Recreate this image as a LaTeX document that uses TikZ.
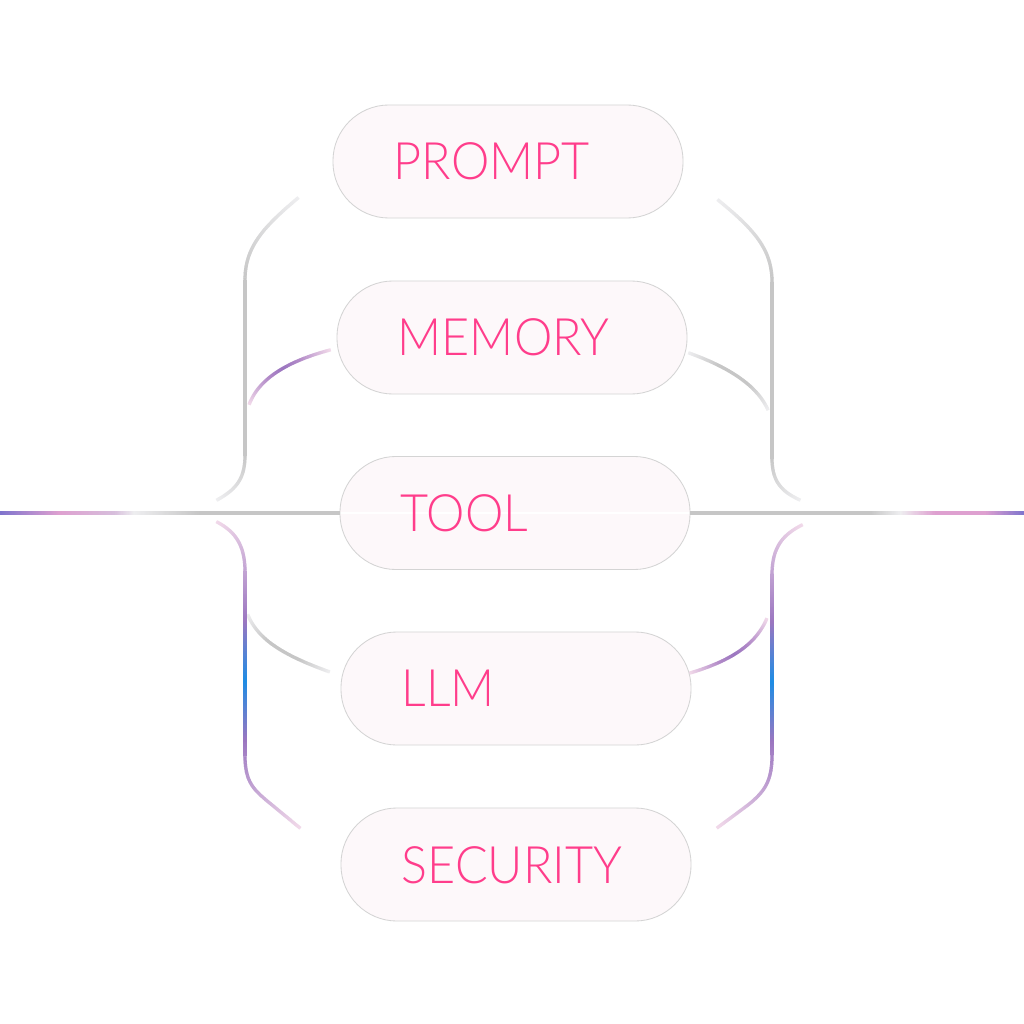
\documentclass[tikz,border=0pt]{standalone}
\usepackage{fontspec}
\setmainfont{Lato Light}[FakeStretch=0.94]
\usetikzlibrary{decorations.markings}
\definecolor{txtpink}{RGB}{255,61,139}
\definecolor{boxfill}{RGB}{253,248,250}
\definecolor{boxline}{RGB}{212,212,212}
\definecolor{lgray}{RGB}{198,198,198}
\definecolor{fgray}{RGB}{238,238,240}
\definecolor{lpink}{RGB}{242,218,234}
\definecolor{hpink}{RGB}{222,160,208}
\definecolor{hpale}{RGB}{215,190,220}
\definecolor{mauve}{RGB}{178,138,200}
\definecolor{purp}{RGB}{155,118,192}
\definecolor{blu}{RGB}{30,140,228}
\definecolor{hpurp}{RGB}{125,115,205}
\newcommand\glw{2.3pt}
\tikzset{
  box/.style={draw=boxline, line width=0.6pt, fill=boxfill, rounded corners=1.4cm,
    minimum height=2.825cm, inner ysep=0pt, inner xsep=1.52cm, text width=5.71cm,
    align=left, text=txtpink, font=\fontsize{36.7pt}{40pt}\selectfont,
    text height=26.3pt, text depth=0pt},
  plain/.style={draw=#1, line width=\glw},
  lin/.style 2 args={decoration={markings, mark=between positions 0 and 1 step 0.3mm with {
     \pgfmathsetmacro\gt{\pgfkeysvalueof{/pgf/decoration/mark info/distance from start}/\pgfdecoratedpathlength}
     \pgfmathtruncatemacro\gp{max(0,min(100,100-100*\gt))}
     \draw[line width=\glw, draw=#1!\gp!#2] (-0.2mm,0) -- (0.2mm,0);}}, postaction={decorate}},
  sym/.style n args={3}{decoration={markings, mark=between positions 0 and 1 step 0.3mm with {
     \pgfmathsetmacro\gt{\pgfkeysvalueof{/pgf/decoration/mark info/distance from start}/\pgfdecoratedpathlength}
     \pgfmathsetmacro\gu{abs(2*\gt-1)}
     \ifdim\gu pt<0.35pt
        \pgfmathtruncatemacro\gp{max(0,min(100,100*\gu/0.35))}
        \def\gc{#2!\gp!#1}
     \else
        \pgfmathtruncatemacro\gp{max(0,min(100,100*(\gu-0.35)/0.65))}
        \def\gc{#3!\gp!#2}
     \fi
     \draw[line width=\glw, draw=\gc] (-0.2mm,0) -- (0.2mm,0);}}, postaction={decorate}},
}
\begin{document}
\begin{tikzpicture}[x=0.025cm, y=-0.025cm]
\fill[white] (0,0) rectangle (1024,1024);
\useasboundingbox (0,0) rectangle (1024,1024);

% end points of connectors
\coordinate (L0) at (0,513);
\coordinate (L1) at (60,513);
\coordinate (L2) at (115,513);
\coordinate (L3) at (135,513);
\coordinate (L4) at (200,513);
\coordinate (R0) at (1024,513);
\coordinate (R1) at (985,513);
\coordinate (R2) at (935,513);
\coordinate (R3) at (900,513);
\coordinate (R4) at (870,513);

\coordinate (ulA) at (298,198);
\coordinate (ulB) at (245,280);
\coordinate (ulC) at (245,455);
\coordinate (ulD) at (217,500);
\coordinate (urA) at (718,200);
\coordinate (urB) at (772,282);
\coordinate (urC) at (772,458);
\coordinate (urD) at (800,500);
\coordinate (mlA) at (330,350);
\coordinate (mlB) at (249,405);
\coordinate (mrA) at (689,353);
\coordinate (mrB) at (768,410);
\coordinate (llA) at (217,522);
\coordinate (llB) at (300,828);
\coordinate (lrA) at (802,525);
\coordinate (lrB) at (717,828);
\coordinate (gA) at (248,615);
\coordinate (gB) at (330,672);
\coordinate (hA) at (690,673);
\coordinate (hB) at (767,618);

% horizontal line, left
\path[lin={hpurp}{hpink}] (L0) -- (L1);
\path[lin={hpink}{hpale}] (L1) -- (L2);
\path[lin={hpale}{fgray}] (L2) -- (L3);
\path[lin={fgray}{lgray}] (L3) -- (L4);
% horizontal line, right
\path[lin={hpurp}{hpink}] (R0) -- (R1);
\path[lin={hpink}{hpink}] (R1) -- (R2);
\path[lin={hpink}{fgray}] (R2) -- (R3);
\path[lin={fgray}{lgray}] (R3) -- (R4);

% upper brackets (grey)
\path[lin={fgray}{lgray}] (ulA) .. controls (262,228) and (245,248) .. (ulB);
\draw[plain=lgray] (ulB) -- (ulC);
\path[lin={lgray}{fgray}] (ulC) .. controls (245,478) and (237,489) .. (ulD);
\path[lin={fgray}{lgray}] (urA) .. controls (755,230) and (772,250) .. (urB);
\draw[plain=lgray] (urB) -- (urC);
\path[lin={lgray}{fgray}] (urC) .. controls (772,480) and (780,491) .. (urD);

% memory connectors
\path[sym={purp}{mauve}{lpink}] (mlA) .. controls (285,362) and (258,380) .. (mlB);
\path[sym={lgray}{lgray}{fgray}] (mrA) .. controls (728,367) and (757,385) .. (mrB);

% llm connectors
\path[sym={lgray}{lgray}{fgray}] (gA) .. controls (258,640) and (285,656) .. (gB);
\path[sym={purp}{mauve}{lpink}] (hA) .. controls (730,661) and (756,645) .. (hB);

% lower brackets (colour)
\path[sym={blu}{purp}{lpink}] (llA) .. controls (236,532) and (245,546) .. (245,572)
   -- (245,755) .. controls (245,780) and (252,788) .. (266,800) -- (llB);
\path[sym={blu}{purp}{lpink}] (lrA) .. controls (782,535) and (772,548) .. (772,575)
   -- (772,755) .. controls (772,782) and (764,792) .. (748,805) -- (lrB);

% nodes
\node[box] (prompt) at (508,161.5) {PROMPT};
\node[box] (memory) at (512,337.5) {MEMORY};
\node[box, path picture={\draw[white, line width=1.6pt]
   (path picture bounding box.west) -- (path picture bounding box.east);}] (tool) at (515,513) {TOOL};
\node[box] (llm) at (516,688.5) {LLM};
\node[box] (security) at (516,864.5) {SECURITY};

% horizontal grey parts touching the TOOL node
\draw[plain=lgray] (L4) -- (tool.west);
\draw[plain=lgray] (tool.east) -- (R4);
\end{tikzpicture}
\end{document}
